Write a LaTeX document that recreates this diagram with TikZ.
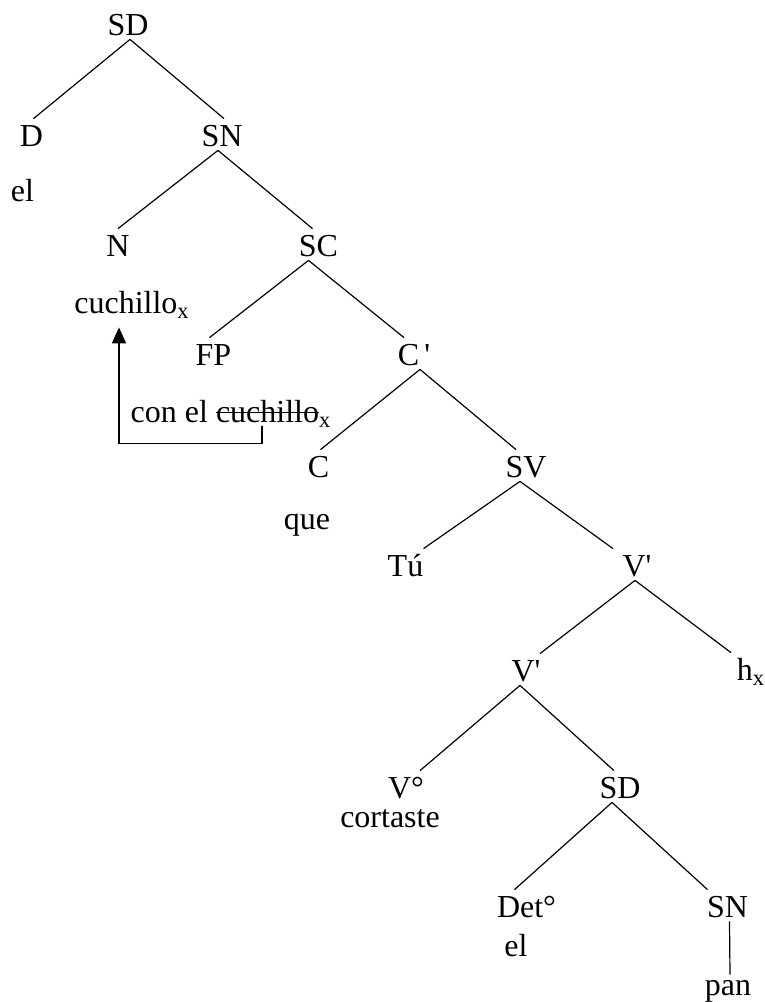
\documentclass[tikz,border=0pt]{standalone}
\usepackage{fontspec}
\setmainfont{Liberation Serif}
\usepackage{tikz}
\usetikzlibrary{arrows.meta}

% struck-out word
\newsavebox{\strkbox}
\newcommand{\strk}[1]{\sbox{\strkbox}{#1}%
    \rlap{\rule[4.5pt]{\wd\strkbox}{0.6pt}}\usebox{\strkbox}}

\begin{document}
\begin{tikzpicture}[x=0.5pt, y=-0.5pt,
    lbl/.style={anchor=base, inner sep=0pt, font=\fontsize{16}{19}\selectfont,
        text height=13.5pt, text depth=2pt},
    branch/.style={line width=0.6pt},
    move/.style={line width=0.9pt, -{Triangle[length=8pt,width=7pt]}}]
    \useasboundingbox (0,0) rectangle (765,1002);

    % tree nodes
    \node[lbl] (sdtop) at (128,35)    {SD};
    \node[lbl] (d)     at (31.5,146)  {D};
    \node[lbl] (sna)   at (222,146)   {SN};
    \node[lbl] (n)     at (118,256)   {N};
    \node[lbl] (sc)    at (318.5,256) {SC};
    \node[lbl] (fp)    at (213.5,365) {FP};
    \node[lbl] (cbar)  at (414,365)   {C\,\textquotesingle};
    \node[lbl] (c)     at (318.5,477) {C};
    \node[lbl] (sv)    at (526,477)   {SV};
    \node[lbl] (tu)    at (405.5,576) {Tú};
    \node[lbl] (vbar)  at (637,576)   {V\textquotesingle};
    \node[lbl] (vbarb) at (526,681)   {V\textquotesingle};
    \node[lbl] (h)     at (751,680)   {h\textsubscript{x}};
    \node[lbl] (vo)    at (406,798)   {V°};
    \node[lbl] (sdb)   at (620,798)   {SD};
    \node[lbl] (det)   at (526.5,917) {Det°};
    \node[lbl] (snb)   at (727.5,917) {SN};

    % words
    \node[lbl] (elA)   at (22.5,201)  {el};
    \node[lbl] (cuch)  at (132,313)   {cuchillo\textsubscript{x}};
    \node[lbl] (fpw)   at (231,422)   {con el \strk{cuchillo}\textsubscript{x}};
    \node[lbl] (que)   at (307,529)   {que};
    \node[lbl] (cort)  at (390,827)   {cortaste};
    \node[lbl] (elB)   at (516,956)   {el};
    \node[lbl, text height=10pt] (pan) at (728,995) {pan};

    % branches (parent/child/shift at parent/shift at child)
    \foreach \a/\b/\sa/\sb in {
        sdtop/d/1/1, sdtop/sna/1/1, sna/n/-2/0, sna/sc/-2/-3,
        sc/fp/-5/-2, sc/cbar/-5/-5, cbar/c/3/1, cbar/sv/3/-5,
        sv/tu/-3/9, sv/vbar/-3/-12, vbar/vbarb/-1/7, vbar/h/-1/-10,
        vbarb/vo/-3/7, vbarb/sdb/-3/-3, sdb/det/-4/-6, sdb/snb/-4/-10,
        snb/pan/1/1
    } {
        \draw[branch] ([xshift=\sa pt]\a.south) -- ([xshift=\sb pt]\b.north);
    }

    % movement of the trace
    \draw[move] ([xshift=15.5pt]fpw.south) -- ++(0,17)
        -| ([xshift=-6.5pt, yshift=-5pt]cuch.south);
\end{tikzpicture}
\end{document}
